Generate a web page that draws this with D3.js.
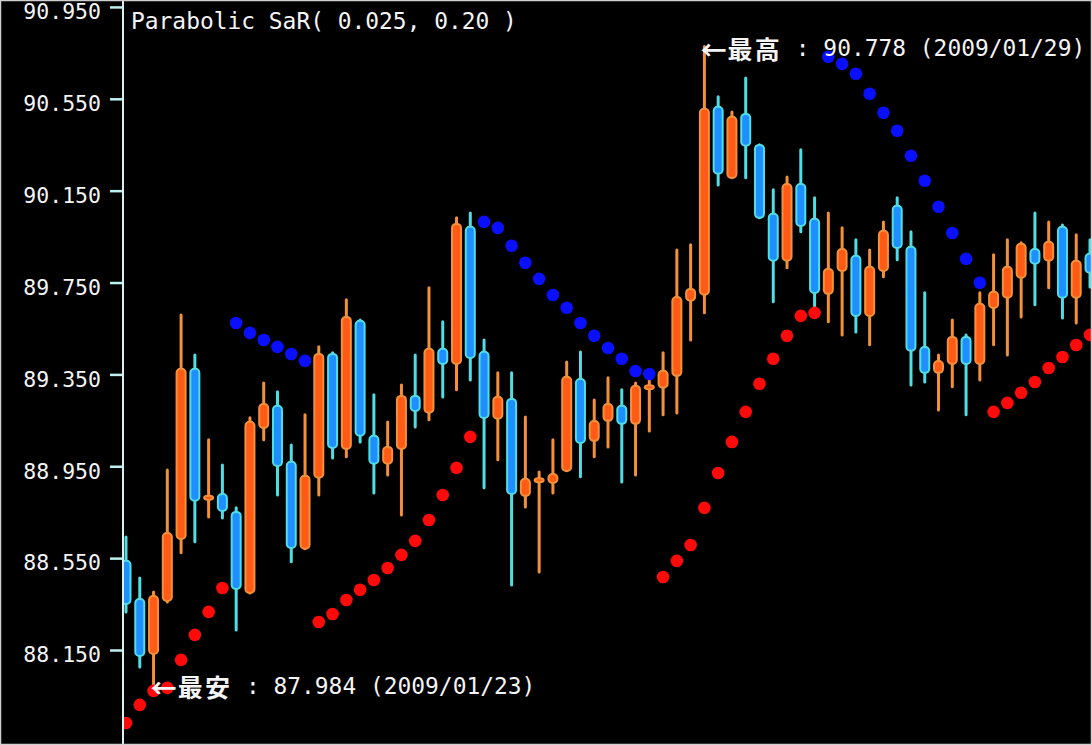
<!DOCTYPE html>
<html>
<head>
<meta charset="utf-8">
<script src="https://cdn.jsdelivr.net/npm/d3@7/dist/d3.min.js"></script>
<style>
  html, body { margin: 0; padding: 0; background: #000; }
  svg { display: block; }
</style>
</head>
<body>
<svg id="chart" width="1092" height="745"></svg>
<script>
// OHLC candles (hourly bars), left to right
const opens  = [88.534, 88.368, 88.137, 88.368, 88.638, 89.370, 88.808, 88.825, 88.747, 88.403,
                89.121, 89.209, 88.965, 88.595, 88.904, 89.435, 89.030, 89.579, 89.078, 88.965,
                89.030, 89.252, 89.187, 89.457, 89.400, 89.988, 89.444, 89.161, 89.239, 88.825,
                88.889, 88.882, 88.934, 89.326, 89.065, 89.152, 89.209, 89.139, 89.291, 89.296,
                89.348, 89.675, 89.701, 90.511, 90.210, 90.480, 90.345, 90.045, 89.849, 90.175,
                90.023, 89.705, 89.805, 89.862, 89.609, 89.805, 90.080, 89.901, 89.465, 89.361,
                89.400, 89.509, 89.400, 89.644, 89.688, 89.775, 89.892, 89.849, 89.988, 89.688,
                89.871];
const highs  = [88.642, 88.464, 88.403, 88.934, 89.609, 89.435, 89.065, 88.956, 88.769, 89.161,
                89.313, 89.274, 89.043, 89.174, 89.470, 89.444, 89.675, 89.587, 89.261, 89.143,
                89.304, 89.435, 89.727, 89.579, 90.032, 90.053, 89.500, 89.357, 89.357, 89.165,
                88.925, 89.065, 89.404, 89.448, 89.239, 89.335, 89.283, 89.313, 89.339, 89.444,
                89.892, 89.914, 90.778, 90.559, 90.493, 90.641, 90.350, 90.154, 90.210, 90.328,
                90.119, 90.053, 89.988, 89.936, 89.892, 90.014, 90.119, 89.971, 89.705, 89.435,
                89.587, 89.522, 89.705, 89.871, 89.936, 89.923, 90.053, 90.014, 90.001, 89.958,
                89.936];
const lows   = [88.316, 88.076, 87.984, 88.359, 88.573, 88.621, 88.729, 88.725, 88.237, 88.398,
                89.065, 88.825, 88.534, 88.591, 88.825, 88.986, 88.991, 89.056, 88.834, 88.912,
                88.738, 89.121, 89.152, 89.252, 89.283, 89.326, 88.856, 88.978, 88.433, 88.773,
                88.490, 88.834, 88.930, 88.904, 88.991, 89.034, 88.882, 88.912, 89.104, 89.174,
                89.182, 89.500, 89.618, 90.175, 90.206, 90.206, 90.032, 89.666, 89.814, 89.971,
                89.622, 89.579, 89.522, 89.535, 89.479, 89.775, 89.849, 89.304, 89.317, 89.195,
                89.296, 89.174, 89.326, 89.479, 89.435, 89.600, 89.653, 89.727, 89.596, 89.574,
                89.731];
const closes = [88.355, 88.128, 88.381, 88.655, 89.370, 88.804, 88.817, 88.760, 88.420, 89.139,
                89.217, 88.956, 88.599, 88.904, 89.435, 89.034, 89.596, 89.087, 88.965, 89.030,
                89.252, 89.195, 89.457, 89.400, 90.001, 89.426, 89.165, 89.248, 88.834, 88.891,
                88.893, 88.912, 89.335, 89.056, 89.143, 89.217, 89.139, 89.296, 89.298, 89.361,
                89.683, 89.718, 90.502, 90.228, 90.467, 90.350, 90.036, 89.849, 90.175, 90.001,
                89.709, 89.805, 89.892, 89.609, 89.814, 89.971, 89.905, 89.457, 89.361, 89.404,
                89.509, 89.400, 89.653, 89.705, 89.814, 89.914, 89.836, 89.923, 89.688, 89.840,
                89.797];

// Parabolic SAR value for each bar
const sar = [87.832, 87.911, 87.972, 87.985, 88.107, 88.216, 88.316, 88.420, 89.574, 89.531,
             89.500, 89.470, 89.439, 89.409, 88.272, 88.307, 88.368, 88.412, 88.455, 88.507,
             88.564, 88.625, 88.716, 88.825, 88.943, 89.078, 90.014, 89.988, 89.910, 89.836,
             89.766, 89.696, 89.640, 89.574, 89.518, 89.465, 89.418, 89.365, 89.352, 88.468,
             88.538, 88.607, 88.769, 88.921, 89.056, 89.187, 89.309, 89.418, 89.518, 89.605,
             89.618, 90.733, 90.702, 90.659, 90.572, 90.489, 90.411, 90.302, 90.193, 90.080,
             89.966, 89.853, 89.749, 89.187, 89.226, 89.270, 89.317, 89.378, 89.426, 89.478,
             89.522];

const yTicks = [90.950, 90.550, 90.150, 89.750, 89.350, 88.950, 88.550, 88.150];
const titleText = "Parabolic SaR( 0.025, 0.20 )";
const highNote = { idx: 42, value: 90.778, date: "2009/01/29", name: "最高" };
const lowNote  = { idx: 2,  value: 87.984, date: "2009/01/23", name: "最安" };

const W = 1092, H = 745;
const svg = d3.select("#chart");
const mono = "'DejaVu Sans Mono', 'Liberation Mono', monospace";
const cjk = "'Noto Sans CJK JP', 'Noto Sans CJK SC', sans-serif";

const bars = opens.map((o, i) => ({ i, o, h: highs[i], l: lows[i], c: closes[i], s: sar[i] }));

const x = d3.scaleLinear().domain([0, bars.length - 1]).range([126, 1090]);
const y = d3.scaleLinear().domain([88.150, 90.550]).range([650, 98.8]);

svg.append("rect").attr("width", W).attr("height", H).attr("fill", "#000");

svg.append("defs").append("clipPath").attr("id", "plot")
  .append("rect").attr("x", 124).attr("y", 0).attr("width", W - 124).attr("height", H);

const up = { wick: "#f2913a", body: "#ff5b16" };
const dn = { wick: "#4fdde6", body: "#1f8fff" };

const plot = svg.append("g").attr("clip-path", "url(#plot)");

// wicks
plot.selectAll("line.wick").data(bars).join("line")
  .attr("class", "wick")
  .attr("x1", d => x(d.i)).attr("x2", d => x(d.i))
  .attr("y1", d => y(d.h)).attr("y2", d => y(d.l))
  .attr("stroke", d => d.c >= d.o ? up.wick : dn.wick)
  .attr("stroke-width", 3)
  .attr("stroke-linecap", "round");

// bodies
plot.selectAll("rect.body").data(bars).join("rect")
  .attr("class", "body")
  .attr("x", d => x(d.i) - 4.5)
  .attr("width", 9)
  .attr("y", d => Math.min(y(d.o), y(d.c)) - 1)
  .attr("height", d => Math.max(Math.abs(y(d.o) - y(d.c)), 2) + 2)
  .attr("rx", 4)
  .attr("fill", d => d.c >= d.o ? up.body : dn.body)
  .attr("stroke", d => d.c >= d.o ? up.wick : dn.wick)
  .attr("stroke-width", 2);

// SAR dots: below price = red, above price = blue
plot.selectAll("circle.sar").data(bars).join("circle")
  .attr("class", "sar")
  .attr("cx", d => x(d.i))
  .attr("cy", d => y(d.s))
  .attr("r", 6.3)
  .attr("fill", d => d.s < d.l ? "#ff0a0a" : "#0a10ff");

// y axis
const axis = d3.axisLeft(y).tickValues(yTicks).tickFormat(d3.format(".3f"))
  .tickSize(13).tickPadding(9);
const ax = svg.append("g").attr("transform", "translate(123,0)").call(axis);
ax.select(".domain").remove();
ax.append("line").attr("x1", 0).attr("x2", 0).attr("y1", 0).attr("y2", H)
  .attr("stroke", "#d6f2f2").attr("stroke-width", 2);
ax.selectAll(".tick line").attr("stroke", "#bff0f0").attr("stroke-width", 2.5);
ax.selectAll(".tick text")
  .attr("fill", "#f4f4f4")
  .attr("font-family", mono)
  .attr("font-size", 21.5)
  .attr("dy", "0.55em");

// indicator title
svg.append("text")
  .attr("x", 131).attr("y", 21)
  .attr("dominant-baseline", "central")
  .attr("fill", "#f4f4f4")
  .attr("font-family", mono)
  .attr("font-size", 22.9)
  .text(titleText);

// high / low notes
function note(n, x0, yc) {
  const g = svg.append("g").attr("fill", "#f4f4f4");
  const unit = 13.6;
  g.append("text").attr("x", x0).attr("y", yc).attr("dominant-baseline", "central")
    .attr("font-family", cjk).attr("font-size", 26).attr("font-weight", 700).text("←");
  const chars = Array.from(n.name);
  chars.forEach((ch, k) => {
    g.append("text").attr("x", x0 + unit * 2 * (k + 1)).attr("y", yc)
      .attr("dominant-baseline", "central")
      .attr("font-family", cjk).attr("font-size", 25).attr("font-weight", 700)
      .text(ch);
  });
  g.append("text").attr("x", x0 + unit * 2 * (chars.length + 1)).attr("y", yc)
    .attr("dominant-baseline", "central")
    .attr("font-family", mono).attr("font-size", 22.9)
    .attr("xml:space", "preserve")
    .text(" : " + d3.format(".3f")(n.value) + " (" + n.date + ")");
}
note(highNote, x(highNote.idx) - 4, 48);
note(lowNote, x(lowNote.idx) - 3, 686);

// frame
svg.append("rect").attr("x", 0.5).attr("y", 0.5).attr("width", W - 1).attr("height", H - 1)
  .attr("fill", "none").attr("stroke", "#cfcfcf").attr("stroke-width", 1.5);
</script>
</body>
</html>
